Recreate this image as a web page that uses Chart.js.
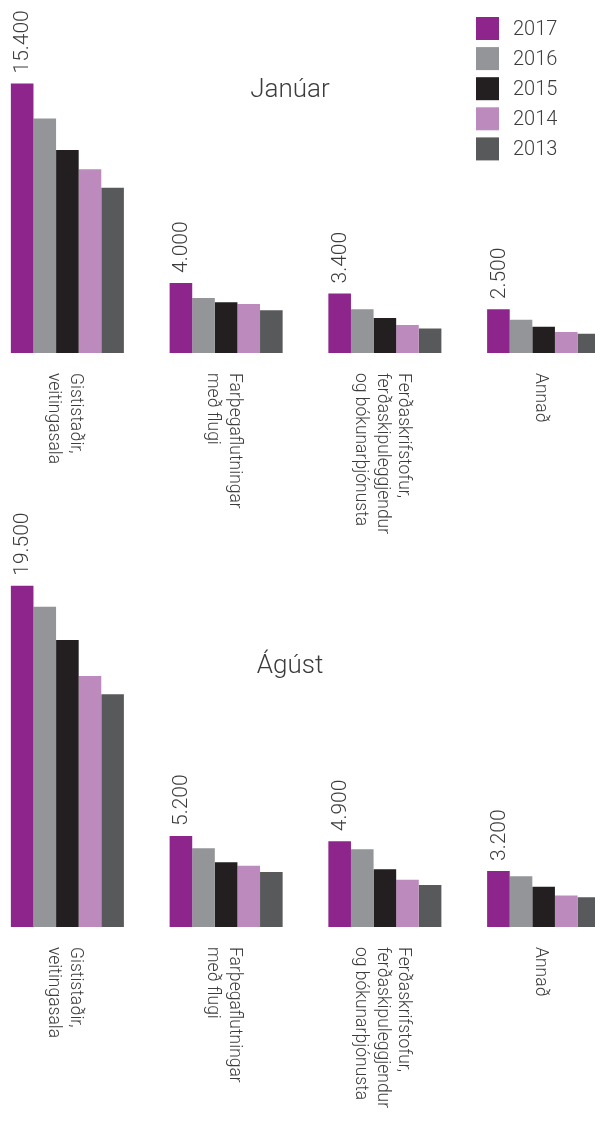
<!DOCTYPE html>
<html>
<head>
<meta charset="utf-8">
<script src="https://cdn.jsdelivr.net/npm/chart.js@4"></script>
<style>
  html, body { margin: 0; padding: 0; width: 595px; height: 1122px; overflow: hidden; background: #fff; }
  .box { position: absolute; left: -12px; width: 635px; }
  #b1 { top: 0; height: 561px; }
  #b2 { top: 480px; height: 642px; }
</style>
</head>
<body>
<div class="box" id="b1"><canvas id="c1"></canvas></div>
<div class="box" id="b2"><canvas id="c2"></canvas></div>
<script>
// ---- data ----
const categories = [
  ["Gististaðir,", "veitingasala"],
  ["Farþegaflutningar", "með flugi"],
  ["Ferðaskrifstofur,", "ferðaskipuleggjendur", "og bókunarþjónusta"],
  ["Annað"]
];
const years = ["2017", "2016", "2015", "2014", "2013"];
const colors = ["#8e258d", "#939598", "#231f20", "#bc8abd", "#58595b"];

const jan2017 = [15400, 4000, 3400, 2500];
const jan2016 = [13400, 3150, 2500, 1900];
const jan2015 = [11600, 2900, 2000, 1500];
const jan2014 = [10500, 2800, 1600, 1200];
const jan2013 = [9450, 2450, 1400, 1100];

const aug2017 = [19500, 5200, 4900, 3200];
const aug2016 = [18300, 4500, 4450, 2900];
const aug2015 = [16400, 3700, 3300, 2300];
const aug2014 = [14350, 3500, 2700, 1800];
const aug2013 = [13300, 3150, 2400, 1700];

const titles = ["Janúar", "Ágúst"];
const yMax = 20000;

const FONT = "Roboto";
const TEXT = "#3c3c3c";

function fmt(v) {
  return String(v).replace(/\B(?=(\d{3})+(?!\d))/g, ".");
}

const drawPlugin = {
  id: "drawExtras",
  afterDatasetsDraw(chart, args, opts) {
    const ctx = chart.ctx;
    const xs = chart.scales.x;
    const ys = chart.scales.y;
    const base = ys.getPixelForValue(0);
    ctx.save();
    ctx.fillStyle = TEXT;

    // value labels above first series
    const meta = chart.getDatasetMeta(0);
    ctx.font = "300 21px " + FONT;
    meta.data.forEach((bar, i) => {
      const v = chart.data.datasets[0].data[i];
      ctx.save();
      ctx.translate(bar.x + 1, bar.y - 10);
      ctx.rotate(-Math.PI / 2);
      ctx.textAlign = "left";
      ctx.textBaseline = "middle";
      ctx.fillText(fmt(v), 0, 0);
      ctx.restore();
    });

    // category labels (rotated, reading downwards)
    ctx.font = "300 17.5px " + FONT;
    const lh = 21.5;
    chart.data.labels.forEach((lab, i) => {
      const lines = Array.isArray(lab) ? lab : [lab];
      const x = xs.getPixelForValue(i);
      ctx.save();
      ctx.translate(x - 3, base + 20);
      ctx.rotate(Math.PI / 2);
      ctx.textAlign = "left";
      ctx.textBaseline = "middle";
      const n = lines.length;
      lines.forEach((ln, k) => {
        ctx.fillText(ln, 0, (k - (n - 1) / 2) * lh);
      });
      ctx.restore();
    });

    // title
    ctx.font = "300 26px " + FONT;
    ctx.textAlign = "center";
    ctx.textBaseline = "alphabetic";
    ctx.fillText(opts.title, 302, opts.titleY);

    // legend
    if (opts.legend) {
      ctx.font = "300 20px " + FONT;
      ctx.textAlign = "left";
      ctx.textBaseline = "middle";
      chart.data.datasets.forEach((ds, k) => {
        const y = 17 + k * 30.1;
        ctx.fillStyle = ds.backgroundColor;
        ctx.fillRect(488, y, 23, 23);
        ctx.fillStyle = TEXT;
        ctx.fillText(ds.label, 525, y + 12.5);
      });
    }
    ctx.restore();
  }
};

function makeChart(id, series, opts, padTop, padBottom) {
  const datasets = years.map((y, k) => ({
    label: y,
    data: series[k],
    backgroundColor: colors[k],
    borderWidth: 0,
    barPercentage: 1.0,
    categoryPercentage: 0.712
  }));
  return new Chart(document.getElementById(id), {
    type: "bar",
    data: { labels: categories, datasets },
    options: {
      responsive: true,
      maintainAspectRatio: false,
      animation: false,
      layout: { padding: { top: padTop, bottom: padBottom, left: 0, right: 0 } },
      scales: {
        x: { display: false },
        y: { display: false, min: 0, max: yMax }
      },
      plugins: {
        legend: { display: false },
        tooltip: { enabled: false },
        drawExtras: opts
      }
    },
    plugins: [drawPlugin]
  });
}

makeChart("c1", [jan2017, jan2016, jan2015, jan2014, jan2013],
  { title: titles[0], titleY: 97, legend: true }, 3, 208);
makeChart("c2", [aug2017, aug2016, aug2015, aug2014, aug2013],
  { title: titles[1], titleY: 673 - 480, legend: false }, 577 - 480, 642 - (927 - 480));
</script>
</body>
</html>
